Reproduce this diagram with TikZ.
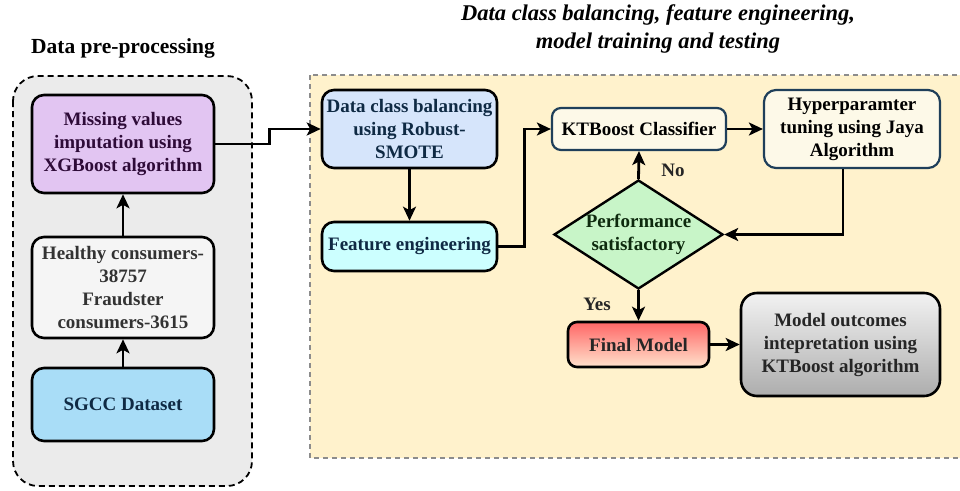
\documentclass[tikz,border=0pt]{standalone}
\usepackage{fontspec}
\setmainfont{Liberation Serif}
\usetikzlibrary{arrows.meta,shapes.geometric}

\definecolor{grayzone}{HTML}{EBEBEB}
\definecolor{yellowzone}{HTML}{FFF2CC}
\definecolor{zoneedge}{HTML}{8C8C8C}
\definecolor{purplefill}{HTML}{E2C5F2}
\definecolor{purpletext}{HTML}{2E0B38}
\definecolor{lightgrayfill}{HTML}{F5F5F5}
\definecolor{graytext}{HTML}{333333}
\definecolor{skyfill}{HTML}{A9DDF7}
\definecolor{navytext}{HTML}{0F2A44}
\definecolor{bluefill}{HTML}{D6E5FB}
\definecolor{cyanfill}{HTML}{CCFFFF}
\definecolor{creamfill}{HTML}{FDF9E8}
\definecolor{slateedge}{HTML}{1F3F5A}
\definecolor{greenfill}{HTML}{C8F5C8}
\definecolor{greentext}{HTML}{0E2A0E}
\definecolor{redtop}{HTML}{FF6666}
\definecolor{redbottom}{HTML}{FFE2CC}
\definecolor{greytop}{HTML}{F2F2F2}
\definecolor{greybottom}{HTML}{ADADAD}

\begin{document}
\begin{tikzpicture}[x=1pt,y=-1pt,
  boxtxt/.style={font=\bfseries\fontsize{19}{23}\selectfont},
  box/.style={boxtxt, draw=black, line width=2.6pt, rounded corners=12pt,
    align=center, inner sep=0pt},
  conn/.style={line width=2.8pt, -{Stealth[length=14pt,width=13pt,inset=3.5pt]}},
  zonetitle/.style={font=\bfseries\fontsize{21.5}{27}\selectfont, align=center}
]
\useasboundingbox (0,0) rectangle (960,490);

% ---- background zones ----
\draw[fill=grayzone, draw=black, line width=1.8pt, dash pattern=on 6pt off 4pt,
      rounded corners=25pt] (13,76) rectangle (252,486);
\draw[fill=yellowzone, draw=zoneedge, line width=1.5pt, dash pattern=on 5pt off 4pt]
      (310,75) rectangle (966,458);

% ---- zone titles ----
\node[zonetitle] (pretitle) at (123,48) {Data pre-processing};
\node[zonetitle, font=\bfseries\itshape\fontsize{22.5}{28}\selectfont] (maintitle) at (658,29)
  {Data class balancing, feature engineering,\\model training and testing};

% ---- pre-processing column ----
\node[box, fill=purplefill, text=purpletext, minimum width=182pt, minimum height=98pt]
  (miss) at (123,144) {Missing values\\imputation using\\XGBoost algorithm};
\node[box, fill=lightgrayfill, text=graytext, minimum width=182pt, minimum height=101pt]
  (healthy) at (123,287.5) {Healthy consumers-\\38757\\Fraudster\\consumers-3615};
\node[box, fill=skyfill, text=navytext, minimum width=182pt, minimum height=73pt]
  (sgcc) at (123,404.5) {SGCC Dataset};

% ---- training / testing flow ----
\node[box, fill=bluefill, text=navytext, minimum width=175pt, minimum height=78pt]
  (dcb) at (409.5,129) {Data class balancing\\using Robust-\\SMOTE};
\node[box, fill=cyanfill, text=navytext, minimum width=175pt, minimum height=49pt]
  (fe) at (409.5,246.5) {Feature engineering};
\node[box, draw=slateedge, line width=2.2pt, fill=creamfill, text=black,
      minimum width=174pt, minimum height=42pt, rounded corners=9pt]
  (kt) at (639,129) {KTBoost Classifier};
\node[box, draw=slateedge, line width=2.2pt, fill=creamfill, text=black,
      minimum width=176pt, minimum height=78pt]
  (hyp) at (852,129) {Hyperparamter\\tuning using Jaya\\Algorithm};
\node[diamond, draw=black, line width=2.4pt, fill=greenfill,
      minimum width=169pt, minimum height=109pt, inner sep=0pt]
  (perf) at (638.5,234.5) {};
\node[boxtxt, align=center, text=greentext] (perftxt) at (perf.center)
  {Performance\\satisfactory};
\node[box, top color=redtop, bottom color=redbottom, text=black!85,
      minimum width=141pt, minimum height=45pt, rounded corners=9pt]
  (fin) at (638.5,344.5) {Final Model};
\node[box, top color=greytop, bottom color=greybottom, text=black!85,
      minimum width=199pt, minimum height=103pt, rounded corners=16pt]
  (mo) at (840.5,344.5) {Model outcomes\\intepretation using\\KTBoost algorithm};

% ---- branch labels ----
\node[boxtxt, text=black!85] (nolbl) at (673,170) {No};
\node[boxtxt, text=black!85] (yeslbl) at (597,304) {Yes};

% ---- connectors ----
\draw[conn] (sgcc.north) -- (healthy.south);
\draw[conn] (healthy.north) -- (miss.south);
\draw[conn] (miss.east) -- ++(54,0) |- (dcb.west);
\draw[conn] (dcb.south) -- (fe.north);
\draw[conn] (fe.east) -- ++(26,0) |- (kt.west);
\draw[conn] (kt.east) -- (hyp.west);
\draw[conn] ([xshift=-9pt]hyp.south) |- (perf.east);
\draw[conn] (perf.north) -- (kt.south);
\draw[conn] (perf.south) -- (fin.north);
\draw[conn] (fin.east) -- (mo.west);
\end{tikzpicture}
\end{document}
